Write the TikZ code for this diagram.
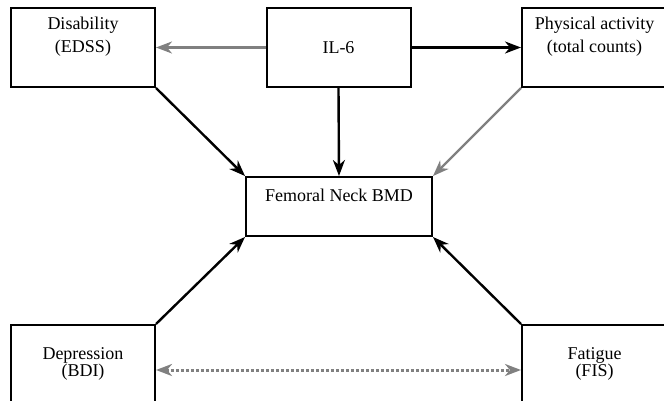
\documentclass[tikz,border=0pt]{standalone}
\usepackage{fontspec}
\setmainfont{Liberation Serif}
\usetikzlibrary{arrows.meta,calc}
\definecolor{arrgray}{RGB}{128,128,128}
\tikzset{
  box/.style={draw, line width=2pt, minimum width=144pt, minimum height=79pt, inner sep=0pt},
  lbl/.style={align=center, font=\fontsize{18}{23}\selectfont, inner sep=0pt},
  lbltight/.style={align=center, font=\fontsize{18}{17}\selectfont, inner sep=0pt},
  tip/.style={-{Stealth[length=16pt,width=12pt,inset=5pt]}},
  conn/.style={line width=2.4pt, tip},
  grayconn/.style={conn, draw=arrgray, arrgray},
  dotconn/.style={line width=3pt, draw=arrgray, dash pattern=on 3pt off 2pt,
    {Stealth[length=16pt,width=12pt,inset=5pt,color=arrgray]}-{Stealth[length=16pt,width=12pt,inset=5pt,color=arrgray]}},
}
\begin{document}
\begin{tikzpicture}[x=1pt,y=-1pt]
\clip (0,0) rectangle (664,401);
\useasboundingbox (0,0) rectangle (664,401);
\node[box] (dis) at (83,47.5) {};
\node[box] (il6) at (338.5,47.5) {};
\node[box, minimum width=145pt] (pa) at (594.5,47.5) {};
\node[box, minimum width=186pt, minimum height=59pt] (fem) at (339,206.5) {};
\node[box] (dep) at (83,364.5) {};
\node[box, minimum width=145pt] (fat) at (594.5,364.5) {};

\node[lbl] (tdis) at (83,37) {Disability\\(EDSS)};
\node[lbl] (til6) at (338.5,47.5) {IL-6};
\node[lbl] (tpa) at (594.5,37) {Physical activity\\(total counts)};
\node[lbl] (tfem) at (339,195.5) {Femoral Neck BMD};
\node[lbltight] (tdep) at (83,364) {Depression\\(BDI)};
\node[lbltight] (tfat) at (594.5,364) {Fatigue\\(FIS)};

\draw[grayconn] (il6.west) -- (dis.east);
\draw[conn] (il6.east) -- (pa.west);
\draw[conn] (il6.south) -- (fem.north);
\draw[conn] (dis.south east) -- (fem.north west);
\draw[grayconn] (pa.south west) -- (fem.north east);
\draw[conn] (dep.north east) -- (fem.south west);
\draw[conn] (fat.north west) -- (fem.south east);
\draw[dotconn] ($(dep.east)+(0,5.5)$) -- ($(fat.west)+(0,5.5)$);
\end{tikzpicture}
\end{document}
